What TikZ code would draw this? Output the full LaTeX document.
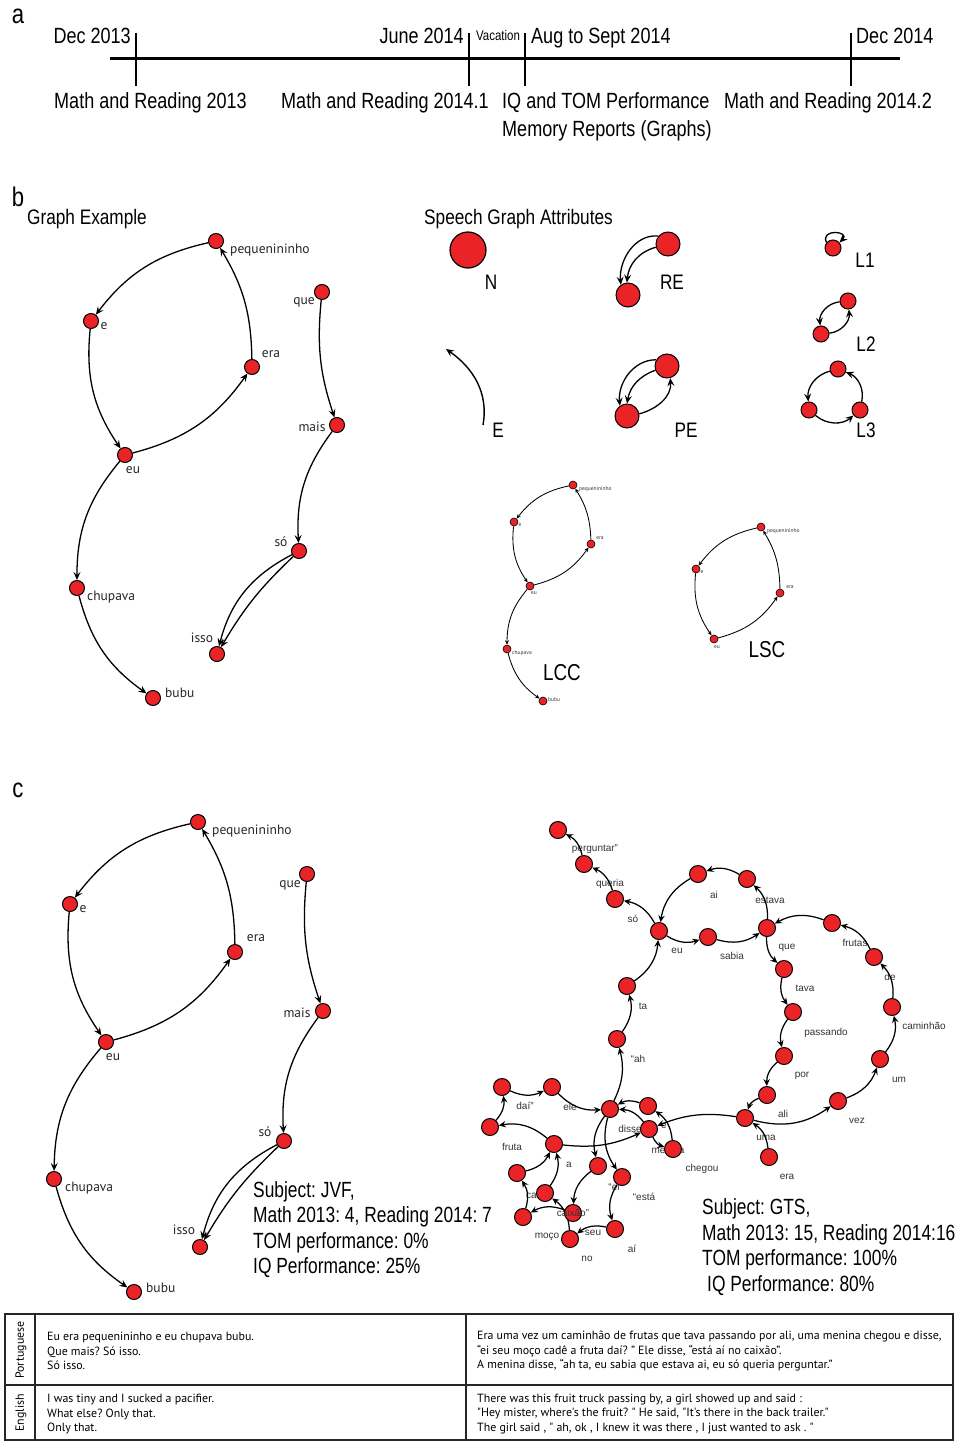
\documentclass[tikz,border=0pt]{standalone}
\usepackage{fontspec}
\setmainfont{Liberation Sans}
\newfontfamily\cond[FakeStretch=0.82]{Liberation Sans}
\newfontfamily\condb[FakeStretch=0.79]{Liberation Sans}
\newfontfamily\myr{PT Sans}
\usetikzlibrary{arrows.meta}
\definecolor{nred}{RGB}{234,36,38}
\pgfdeclarelayer{bg}
\pgfdeclarelayer{labs}
\pgfdeclarelayer{edges}
\pgfsetlayers{bg,labs,edges,main}
\frenchspacing
\tikzset{
 tl/.style={font=\cond\fontsize{22}{24}\selectfont, inner sep=0pt},
 subj/.style={font=\condb\fontsize{22}{24}\selectfont, inner sep=0pt},
 big/.style={font=\cond\fontsize{27}{28}\selectfont, inner sep=0pt},
 hd/.style={font=\cond\fontsize{21}{24}\selectfont, inner sep=0pt},
 gn/.style={circle, draw=black, fill=nred, line width=1pt, minimum size=15pt, inner sep=0pt},
 gs/.style={gn, minimum size=17pt},
 sn/.style={gn, minimum size=8pt, line width=0.6pt},
 bl/.style={font=\myr\fontsize{13.5}{15}\selectfont, inner sep=0pt, text=black!85},
 sl/.style={font=\myr\fontsize{5.5}{6}\selectfont, inner sep=0pt, text=black!80},
 glab/.style={font=\fontsize{10}{11}\selectfont, inner sep=0pt, text=black!80},
 arr/.style={-{Stealth[length=8pt,width=7pt,inset=3pt]}, line width=1.3pt},
 ed/.style={arr, bend right=20},
 ged/.style={-{Stealth[length=7pt,width=6.5pt,inset=2.5pt]}, line width=1.25pt, bend right=25},
 sed/.style={-{Stealth[length=4.5pt,width=4pt,inset=1.7pt]}, line width=0.85pt, bend right=20},
 tb/.style={font=\myr\fontsize{11.9}{14.8}\selectfont, inner sep=0pt, align=left},
 tabline/.style={line width=1.4pt, draw=black!85},
}
\newcommand\gw[4]{%
 \node[gs] (g#1) at (#2) {};
 \begin{pgfonlayer}{labs}\node[glab] (g#1l) at (#3) {#4};\end{pgfonlayer}}
\begin{document}
\begin{tikzpicture}[x=1pt,y=-1pt]
\useasboundingbox (0,0) rectangle (962,1442);
\begin{pgfonlayer}{bg}
\fill[white] (0,0) rectangle (962,1442);
\end{pgfonlayer}

% ---------- a: timeline ----------
\node[big] (la) at (18,16) {a};
\draw[line width=3pt] (110,59) -- (900,59);
\foreach \x in {136,469,525,851} \draw[line width=2.2pt] (\x,33) -- (\x,86);
\node[tl, anchor=base east] (t1) at (131,44) {Dec 2013};
\node[tl, anchor=base east] (t2) at (464,44) {June 2014};
\node[font=\cond\fontsize{14}{15}\selectfont, inner sep=0pt, anchor=base] (t3) at (498,41) {Vacation};
\node[tl, anchor=base west] (t4) at (531,44) {Aug to Sept 2014};
\node[tl, anchor=base west] (t5) at (856,44) {Dec 2014};
\node[tl, anchor=base west] (t6) at (54,109) {Math and Reading 2013};
\node[tl, anchor=base west] (t7) at (281,109) {Math and Reading 2014.1};
\node[tl, anchor=base west] (t8) at (502,109) {IQ and TOM Performance};
\node[tl, anchor=base west] (t9) at (724,109) {Math and Reading 2014.2};
\node[tl, anchor=base west] (t10) at (502,137) {Memory Reports (Graphs)};

% ---------- b ----------
\node[big] (lb) at (18,197) {b};
\node[hd, anchor=base west] (hge) at (27,224) {Graph Example};
\node[hd, anchor=base west] (hsga) at (424,224) {Speech Graph Attributes};

% graph example
\node[gn] (bP) at (216,241) {};
\node[gn] (bE) at (91,321) {};
\node[gn] (bERA) at (252,367) {};
\node[gn] (bEU) at (125,455) {};
\node[gn] (bCH) at (77,588) {};
\node[gn] (bBU) at (153,698) {};
\node[gn] (bQ) at (322,292) {};
\node[gn] (bM) at (337,425) {};
\node[gn] (bS) at (299,551) {};
\node[gn] (bI) at (217,654) {};
\node[bl, anchor=west] (bPl) at (230,250) {pequenininho};
\node[bl] (bEl) at (104,326) {e};
\node[bl] (bERAl) at (271,354) {era};
\node[bl] (bEUl) at (133,470) {eu};
\node[bl, anchor=west] (bCHl) at (87,597) {chupava};
\node[bl, anchor=west] (bBUl) at (165,693) {bubu};
\node[bl] (bQl) at (304,302) {que};
\node[bl] (bMl) at (312,427) {mais};
\node[bl] (bSl) at (281,542) {só};
\node[bl] (bIl) at (202,638) {isso};
\begin{pgfonlayer}{edges}
\draw[ed] (bP) to (bE);
\draw[ed] (bE) to (bEU);
\draw[ed] (bEU) to (bERA);
\draw[ed, bend right=15] (bERA) to (bP);
\draw[ed] (bEU) to (bCH);
\draw[ed] (bCH) to (bBU);
\draw[ed, bend right=12] (bQ) to (bM);
\draw[ed] (bM) to (bS);
\draw[ed, bend right=8] (bS) to (bI);
\draw[ed, bend right=24] (bS) to (bI);
\end{pgfonlayer}

% speech graph attributes
\node[gn, minimum size=36pt, line width=1.2pt] (aN) at (468,250) {};
\node[hd] (aNl) at (491,282) {N};
\node[gn, minimum size=24pt] (re1) at (668,244) {};
\node[gn, minimum size=24pt] (re2) at (628,295) {};
\node[hd] (rel) at (672,282) {RE};
\node[gn, minimum size=16pt] (l1) at (833,248) {};
\node[hd] (l1l) at (865,260) {L1};
\node[gn, minimum size=16pt] (l2a) at (848,301) {};
\node[gn, minimum size=16pt] (l2b) at (821,334) {};
\node[hd] (l2l) at (866,344) {L2};
\node[gn, minimum size=16pt] (l3a) at (838,369) {};
\node[gn, minimum size=16pt] (l3b) at (809,410) {};
\node[gn, minimum size=16pt] (l3c) at (860,410) {};
\node[hd] (l3l) at (866,430) {L3};
\coordinate (e0) at (483,425);
\coordinate (e1) at (446,349);
\node[hd] (el) at (498,430) {E};
\node[gn, minimum size=24pt] (pe1) at (667,366) {};
\node[gn, minimum size=24pt] (pe2) at (627,416) {};
\node[hd] (pel) at (686,430) {PE};
\begin{pgfonlayer}{edges}
\draw[arr] (re1.140) to[out=175,in=95] (re2.125);
\draw[arr] (re1.195) to[out=195,in=85] (re2.95);
\draw[arr] (l1.140) .. controls +(115:16pt) and +(45:16pt) .. (l1.40);
\draw[ed, bend right=45] (l2a) to (l2b);
\draw[ed, bend right=45] (l2b) to (l2a);
\draw[ed, bend right=40] (l3a) to (l3b);
\draw[ed, bend right=40] (l3b) to (l3c);
\draw[ed, bend right=40] (l3c) to (l3a);
\draw[arr, line width=1.4pt] (e0) to[out=80,in=-35] (e1);
\draw[arr] (pe1.150) to[out=180,in=95] (pe2.125);
\draw[arr] (pe1.200) to[out=200,in=80] (pe2.90);
\draw[arr] (pe2.10) to[out=15,in=-85] (pe1.-75);
\end{pgfonlayer}

% LCC
\node[sn] (cP) at (573,485) {};
\node[sn] (cE) at (514,522) {};
\node[sn] (cERA) at (591,544) {};
\node[sn] (cEU) at (530,586) {};
\node[sn] (cCH) at (507,649) {};
\node[sn] (cBU) at (543,701) {};
\node[sl, anchor=west] (cPl) at (579,489) {pequenininho};
\node[sl] (cEl) at (520,525) {e};
\node[sl] (cERAl) at (600,538) {era};
\node[sl] (cEUl) at (534,593) {eu};
\node[sl, anchor=west] (cCHl) at (512,653) {chupava};
\node[sl, anchor=west] (cBUl) at (548,700) {bubu};
\node[hd, font=\cond\fontsize{23}{24}\selectfont] (lcc) at (562,673) {LCC};
% LSC
\node[sn] (sP) at (761,527) {};
\node[sn] (sE) at (696,569) {};
\node[sn] (sERA) at (780,593) {};
\node[sn] (sEU) at (714,639) {};
\node[sl, anchor=west] (sPl) at (767,531) {pequenininho};
\node[sl] (sEl) at (702,572) {e};
\node[sl] (sERAl) at (790,587) {era};
\node[sl] (sEUl) at (717,647) {eu};
\node[hd, font=\cond\fontsize{23}{24}\selectfont] (lsc) at (767,650) {LSC};
\begin{pgfonlayer}{edges}
\draw[sed] (cP) to (cE);
\draw[sed] (cE) to (cEU);
\draw[sed] (cEU) to (cERA);
\draw[sed, bend right=15] (cERA) to (cP);
\draw[sed] (cEU) to (cCH);
\draw[sed] (cCH) to (cBU);
\draw[sed] (sP) to (sE);
\draw[sed] (sE) to (sEU);
\draw[sed] (sEU) to (sERA);
\draw[sed, bend right=15] (sERA) to (sP);
\end{pgfonlayer}

% ---------- c ----------
\node[big] (lc) at (18,790) {c};
\node[gn] (dP) at (198,822) {};
\node[gn] (dE) at (70,904) {};
\node[gn] (dERA) at (235,952) {};
\node[gn] (dEU) at (106,1042) {};
\node[gn] (dCH) at (54,1179) {};
\node[gn] (dBU) at (134,1292) {};
\node[gn] (dQ) at (307,874) {};
\node[gn] (dM) at (323,1011) {};
\node[gn] (dS) at (284,1141) {};
\node[gn] (dI) at (200,1247) {};
\node[bl, anchor=west] (dPl) at (212,831) {pequenininho};
\node[bl] (dEl) at (83,909) {e};
\node[bl] (dERAl) at (256,938) {era};
\node[bl] (dEUl) at (113,1057) {eu};
\node[bl, anchor=west] (dCHl) at (65,1188) {chupava};
\node[bl, anchor=west] (dBUl) at (146,1288) {bubu};
\node[bl] (dQl) at (290,885) {que};
\node[bl] (dMl) at (297,1013) {mais};
\node[bl] (dSl) at (265,1132) {só};
\node[bl] (dIl) at (184,1230) {isso};
\begin{pgfonlayer}{edges}
\draw[ed] (dP) to (dE);
\draw[ed] (dE) to (dEU);
\draw[ed] (dEU) to (dERA);
\draw[ed, bend right=15] (dERA) to (dP);
\draw[ed] (dEU) to (dCH);
\draw[ed] (dCH) to (dBU);
\draw[ed, bend right=12] (dQ) to (dM);
\draw[ed] (dM) to (dS);
\draw[ed, bend right=8] (dS) to (dI);
\draw[ed, bend right=24] (dS) to (dI);
\end{pgfonlayer}
\node[subj, anchor=west] (jv1) at (253,1192) {Subject: JVF,};
\node[subj, anchor=west] (jv2) at (253,1217) {Math 2013: 4, Reading 2014: 7};
\node[subj, anchor=west] (jv3) at (253,1243) {TOM performance: 0\%};
\node[subj, anchor=west] (jv4) at (253,1268) {IQ Performance: 25\%};

% GTS graph
\gw{era}{769,1157}{787,1177}{era}
\gw{uma}{745,1118}{766,1138}{uma}
\gw{vez}{838,1101}{857,1121}{vez}
\gw{um}{880,1059}{899,1080}{um}
\gw{caminhao}{892,1007}{924,1026}{caminhão}
\gw{de}{874,957}{890,977}{de}
\gw{frutas}{832,923}{855,943}{frutas}
\gw{que}{767,928}{787,948}{que}
\gw{tava}{784,969}{805,988}{tava}
\gw{passando}{793,1012}{826,1033}{passando}
\gw{por}{784,1056}{802,1076}{por}
\gw{ali}{767,1095}{783,1114}{ali}
\gw{menina}{649,1129}{668,1150}{menina}
\gw{chegou}{673,1149}{702,1169}{chegou}
\gw{e}{648,1106}{664,1126}{e}
\gw{disse}{610,1109}{630,1129}{disse}
\gw{ei}{598,1166}{614,1187}{“ei}
\gw{esta}{622,1177}{644,1197}{“está}
\gw{seu}{573,1213}{593,1233}{seu}
\gw{moco}{523,1217}{547,1237}{moço}
\gw{cade}{517,1173}{537,1195}{cadê}
\gw{a}{554,1144}{569,1165}{a}
\gw{fruta}{490,1127}{512,1147}{fruta}
\gw{dai}{502,1087}{525,1106}{daí”}
\gw{ele}{552,1087}{570,1107}{ele}
\gw{aii}{615,1229}{632,1249}{aí}
\gw{no}{570,1239}{587,1259}{no}
\node[gs] (gcaixao) at (545,1193) {};
\gw{ah}{617,1039}{638,1059}{“ah}
\gw{ta}{627,986}{643,1006}{ta}
\gw{eu}{659,931}{677,951}{eu}
\gw{sabia}{708,937}{732,956}{sabia}
\gw{estava}{747,879}{770,900}{estava}
\gw{ai}{698,874}{714,895}{ai}
\gw{so}{615,899}{633,919}{só}
\gw{queria}{584,864}{610,884}{queria}
\gw{perguntar}{558,830}{595,849}{perguntar”}
\node[glab] (gcaixaol) at (573,1213) {caixão”};
\begin{pgfonlayer}{edges}
\foreach \s/\t in {era/uma, uma/vez, vez/um, um/caminhao, caminhao/de, de/frutas,
  frutas/que, que/tava, tava/passando, passando/por, por/ali, ali/uma,
  menina/chegou, chegou/e, e/disse, disse/ei, ei/seu, seu/moco, moco/cade,
  cade/a, a/fruta, fruta/dai, dai/ele, ele/disse, disse/esta, esta/aii,
  aii/no, no/caixao, caixao/a, menina/disse, ah/ta, ta/eu,
  eu/sabia, sabia/que, que/estava, estava/ai, ai/eu, eu/so, so/queria, queria/perguntar}
  \draw[ged] (g\s) to (g\t);
\draw[ged, bend right=15] (guma) to (gmenina);
\draw[ged, bend right=15] (ga) to (gmenina);
\draw[ged, bend right=20] (gdisse) to (gah);
\end{pgfonlayer}
\node[subj, anchor=west] (gt1) at (702,1209) {Subject: GTS,};
\node[subj, anchor=west] (gt2) at (702,1235) {Math 2013: 15, Reading 2014:16};
\node[subj, anchor=west] (gt3) at (702,1260) {TOM performance: 100\%};
\node[subj, anchor=west] (gt4) at (707,1286) {IQ Performance: 80\%};

% ---------- table ----------
\draw[tabline] (5,1314) rectangle (953,1440);
\draw[tabline] (5,1385) -- (953,1385);
\draw[tabline] (35,1314) -- (35,1440);
\draw[tabline] (466,1314) -- (466,1440);
\node[tb, rotate=90] (tp) at (21,1350) {Portuguese};
\node[tb, rotate=90] (te) at (21,1413) {English};
\node[tb, anchor=west] (c1) at (47,1351) {Eu era pequenininho e eu chupava bubu.\\Que mais? Só isso.\\Só isso.};
\node[tb, anchor=west] (c2) at (47,1414) {I was tiny and I sucked a pacifier.\\What else? Only that.\\Only that.};
\node[tb, anchor=west] (c3) at (477,1351) {Era uma vez um caminhão de frutas que tava passando por ali, uma menina chegou e disse,\\“ei seu moço cadê a fruta daí? ” Ele disse, “está aí no caixão”.\\A menina disse, “ah ta, eu sabia que estava ai, eu só queria perguntar.”};
\node[tb, anchor=west] (c4) at (477,1414) {There was this fruit truck passing by, a girl showed up and said :\\"Hey mister, where's the fruit? " He said, "It's there in the back trailer."\\The girl said , " ah, ok , I knew it was there , I just wanted to ask . "};
\end{tikzpicture}
\end{document}
